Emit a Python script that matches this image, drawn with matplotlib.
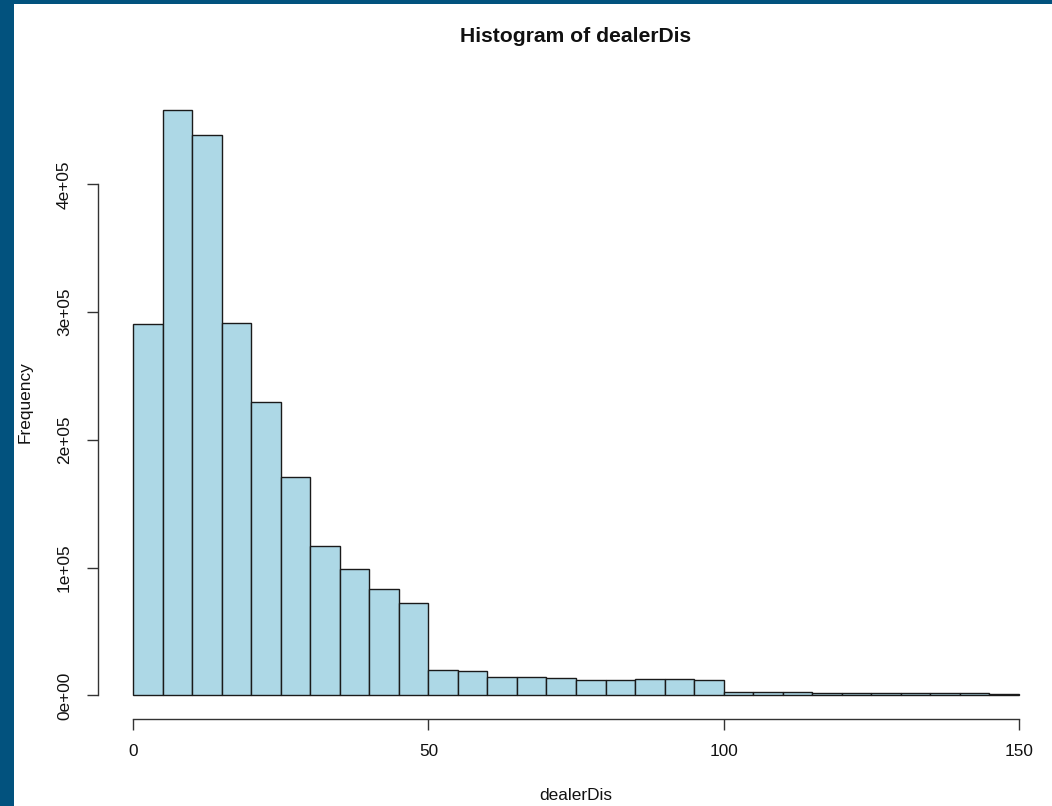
import matplotlib
matplotlib.use("Agg")
import matplotlib.pyplot as plt
from matplotlib.patches import Rectangle
import numpy as np

# ---- data ----
bin_edges = [0, 5, 10, 15, 20, 25, 30, 35, 40, 45, 50, 55, 60, 65, 70, 75,
             80, 85, 90, 95, 100, 105, 110, 115, 120, 125, 130, 135, 140, 145, 150]
counts = [290700, 458100, 438800, 291200, 229700, 171200, 117000, 99000,
          83600, 72100, 19600, 19000, 14500, 14200, 13700, 12400, 12400,
          12600, 12600, 11900, 2800, 2500, 2400, 2300, 2200, 2100, 2000,
          1900, 1800, 800]
x_ticks = [0, 50, 100, 150]
x_tick_labels = ["0", "50", "100", "150"]
y_ticks = [0, 100000, 200000, 300000, 400000]
y_tick_labels = ["0e+00", "1e+05", "2e+05", "3e+05", "4e+05"]
title = "Histogram of dealerDis"
xlabel = "dealerDis"
ylabel = "Frequency"

W, H = 1052, 806
plt.rcParams['font.family'] = ['Liberation Sans', 'DejaVu Sans']
fig = plt.figure(figsize=(W / 100, H / 100), dpi=100)
fig.patch.set_facecolor('#02527e')
fig.patches.append(Rectangle((14 / W, 0), 1 - 14 / W, 1 - 4 / H,
                             transform=fig.transFigure, facecolor='white',
                             edgecolor='none', zorder=-10))

# plot region in pixels (R style 4% expansion)
xlo, xhi = -6, 156
ylo, yhi = -18320, 476400
left_px, right_px = 97.6, 1054.4
top_px, bot_px = 86.7, 718.9
ax = fig.add_axes([left_px / W, (H - bot_px) / H,
                   (right_px - left_px) / W, (bot_px - top_px) / H])
ax.set_zorder(5)
ax.set_facecolor('none')
ax.set_xlim(xlo, xhi)
ax.set_ylim(ylo, yhi)

edges = np.array(bin_edges)
ax.bar(edges[:-1], counts, width=np.diff(edges), align='edge',
       color='#ADD8E6', edgecolor='#1a1a1a', linewidth=1.0, clip_on=False)

for s in ['top', 'right']:
    ax.spines[s].set_visible(False)
ax.spines['left'].set_bounds(y_ticks[0], y_ticks[-1])
ax.spines['bottom'].set_bounds(x_ticks[0], x_ticks[-1])
for s in ['left', 'bottom']:
    ax.spines[s].set_color('#333333')
    ax.spines[s].set_linewidth(1.0)

ax.set_xticks(x_ticks)
ax.set_xticklabels(x_tick_labels)
ax.set_yticks(y_ticks)
ax.set_yticklabels(y_tick_labels, rotation=90, va='center')
ax.tick_params(axis='both', direction='out', length=7.9, width=1.0,
               color='#333333', labelsize=12.4, labelcolor='#111111')
ax.tick_params(axis='x', pad=10.5)
ax.tick_params(axis='y', pad=10.6)

fig.text(575.5 / W, 1 - 41.7 / H, title, ha='center', va='baseline',
         fontsize=15.2, fontweight='bold', color='#111111')
fig.text(575.7 / W, 1 - 800 / H, xlabel, ha='center', va='baseline',
         fontsize=12.4, color='#111111')
fig.text(29.3 / W, 1 - 402.5 / H, ylabel, ha='center', va='baseline',
         rotation=90, rotation_mode='anchor', fontsize=12.4, color='#111111')

fig.savefig('out.png', dpi=100, facecolor=fig.get_facecolor())
